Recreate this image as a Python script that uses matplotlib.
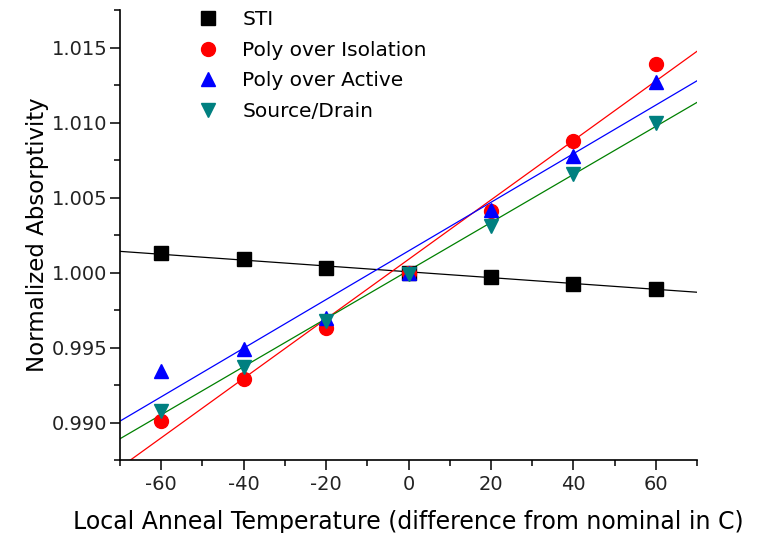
import numpy as np
import matplotlib
matplotlib.use("Agg")
import matplotlib.pyplot as plt
from matplotlib.ticker import MultipleLocator, FormatStrFormatter

# temperature offsets (C)
temp = [-60, -40, -20, 0, 20, 40, 60]

# normalized absorptivity
sti = [1.00127, 1.00087, 1.00033, 1.0000, 0.99967, 0.99926, 0.99893]
poly_iso = [0.9901, 0.9929, 0.9963, 1.0000, 1.0041, 1.0088, 1.0139]
poly_act = [0.99345, 0.9949, 0.9970, 1.0000, 1.0042, 1.0078, 1.0127]
src_drn = [0.9908, 0.9937, 0.9968, 0.9999, 1.0031, 1.0066, 1.0100]

labels = ["STI", "Poly over Isolation", "Poly over Active", "Source/Drain"]
series = [sti, poly_iso, poly_act, src_drn]
markers = ["s", "o", "^", "v"]
mcolors = ["black", "red", "blue", "#008080"]
lcolors = ["black", "red", "blue", "green"]

plt.rcParams['font.family'] = ['DejaVu Sans']
plt.rcParams['axes.unicode_minus'] = False

fig = plt.figure(figsize=(7.63, 5.33), dpi=100)
ax = fig.add_axes([120 / 763, 1 - 460 / 533, (697 - 120) / 763, 450 / 533])

xfit = np.array([-70, 70])
for y, lc in zip(series, lcolors):
    k, b = np.polyfit(temp, y, 1)
    ax.plot(xfit, k * xfit + b, color=lc, lw=0.9, zorder=2)

for y, m, mc, lab in zip(series, markers, mcolors, labels):
    ax.plot(temp, y, ls="none", marker=m, ms=10, color=mc, label=lab, zorder=3)

ax.set_xlim(-70, 70)
ax.set_ylim(0.9875, 1.0175)
ax.xaxis.set_major_locator(MultipleLocator(20))
ax.xaxis.set_minor_locator(MultipleLocator(10))
ax.yaxis.set_major_locator(MultipleLocator(0.005))
ax.yaxis.set_minor_locator(MultipleLocator(0.0025))
ax.yaxis.set_major_formatter(FormatStrFormatter("%.3f"))

ax.spines["top"].set_visible(False)
ax.spines["right"].set_visible(False)
for s in ["left", "bottom"]:
    ax.spines[s].set_linewidth(1.2)
ax.tick_params(which="major", direction="out", length=7, width=1.1, labelsize=14, pad=2)
ax.tick_params(which="minor", direction="out", length=4, width=1.1)
ax.tick_params(axis="x", which="major", pad=4)
for t in ax.get_xticklabels() + ax.get_yticklabels():
    t.set_color("#222222")

ax.set_xlabel("Local Anneal Temperature (difference from nominal in C)", fontsize=17, labelpad=11)
ax.set_ylabel("Normalized Absorptivity", fontsize=16.5, labelpad=2)

fig.legend(loc="upper left", bbox_to_anchor=(199 / 763, 1 - 10 / 533), frameon=False,
           fontsize=14.5, handlelength=0.9, handletextpad=1.25, labelspacing=0.58,
           borderpad=0, borderaxespad=0)

fig.savefig("out.png", dpi=100)
